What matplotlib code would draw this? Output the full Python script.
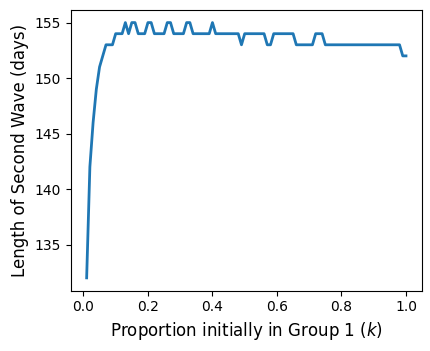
import matplotlib
matplotlib.use("Agg")
import matplotlib.pyplot as plt
import numpy as np

# proportion initially in group 1, steps of 0.01
k = np.linspace(0.01, 1.0, 100)

# length of second wave (days)
wave_len = [
    132, 142, 146, 149, 151, 152, 153, 153, 153, 154,
    154, 154, 155, 154, 155, 155, 154, 154, 154, 155,
    155, 154, 154, 154, 154, 155, 155, 154, 154, 154,
    154, 155, 155, 154, 154, 154, 154, 154, 154, 155,
    154, 154, 154, 154, 154, 154, 154, 154, 153, 154,
    154, 154, 154, 154, 154, 154, 153, 153, 154, 154,
    154, 154, 154, 154, 154, 153, 153, 153, 153, 153,
    153, 154, 154, 154, 153, 153, 153, 153, 153, 153,
    153, 153, 153, 153, 153, 153, 153, 153, 153, 153,
    153, 153, 153, 153, 153, 153, 153, 153, 152, 152,
]

fig = plt.figure(figsize=(4.31, 3.51), dpi=100)
ax = fig.add_axes([0.164, 0.172, 0.815, 0.800])
ax.plot(k, wave_len, color="C0", linewidth=2)
ax.set_xlabel("Proportion initially in Group 1 ($k$)", fontsize=12)
ax.set_ylabel("Length of Second Wave (days)", fontsize=12)

fig.savefig("out.png", dpi=100)
